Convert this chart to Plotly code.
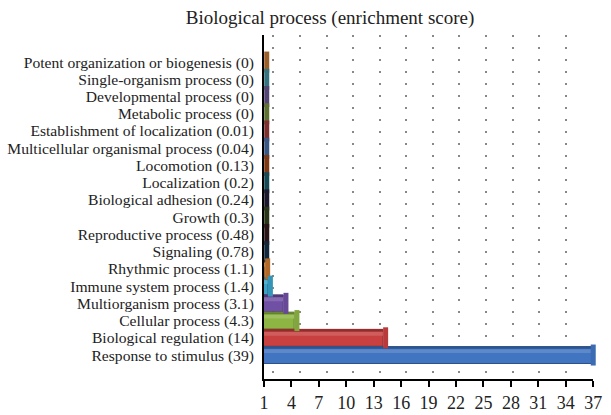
import numpy as np
import plotly.graph_objects as go

# ---- data (top to bottom as displayed) ----
categories = [
    "Potent organization or biogenesis (0)",
    "Single-organism process (0)",
    "Developmental process (0)",
    "Metabolic process (0)",
    "Establishment of localization (0.01)",
    "Multicellular organismal process (0.04)",
    "Locomotion (0.13)",
    "Localization (0.2)",
    "Biological adhesion (0.24)",
    "Growth (0.3)",
    "Reproductive process (0.48)",
    "Signaling (0.78)",
    "Rhythmic process (1.1)",
    "Immune system process (1.4)",
    "Multiorganism process (3.1)",
    "Cellular process (4.3)",
    "Biological regulation (14)",
    "Response to stimulus (39)",
]
scores = [0, 0, 0, 0, 0.01, 0.04, 0.13, 0.2, 0.24, 0.3, 0.48, 0.78, 1.1, 1.4, 3.1, 4.3, 14, 39]
x_ticks = [1, 4, 7, 10, 13, 16, 19, 22, 25, 28, 31, 34, 37]

# ---- styles ----
colors = ["#a8682e", "#3a7d8c", "#5c4a80", "#687a38", "#8a3535", "#3d5f8f",
          "#8a3d15", "#16505e", "#1e1a30", "#2c3a1a", "#2e1518", "#142a42",
          "#c0732c", "#3aa3c8", "#7050a5", "#8db543", "#c84040", "#4175c2"]


def shade(hexc, f):
    h = hexc.lstrip("#")
    r, g, b = [int(h[i:i + 2], 16) for i in (0, 2, 4)]
    if f < 1:
        r, g, b = [int(v * f) for v in (r, g, b)]
    else:
        t = f - 1
        r, g, b = [int(v + (255 - v) * t) for v in (r, g, b)]
    return "#%02x%02x%02x" % (r, g, b)


FONT = "Liberation Serif, Times New Roman, serif"
XMIN, XMAX = x_ticks[0], x_ticks[-1]
vals = np.array(scores, dtype=float)

fig = go.Figure()

# main bar faces
fig.add_trace(go.Bar(
    y=categories, x=vals, orientation="h", width=0.98,
    marker=dict(color=colors, line=dict(color=[shade(c, 0.7) for c in colors], width=1)),
    hoverinfo="x+y", showlegend=False,
))
# lighter highlight band
fig.add_trace(go.Bar(
    y=categories, x=vals, orientation="h", width=0.22, offset=-0.34,
    marker=dict(color=[shade(c, 1.15) for c in colors], line=dict(width=0)),
    hoverinfo="skip", showlegend=False,
))
# darker top face
fig.add_trace(go.Bar(
    y=categories, x=vals, orientation="h", width=0.12, offset=-0.49,
    marker=dict(color=[shade(c, 0.72) for c in colors], line=dict(width=0)),
    hoverinfo="skip", showlegend=False,
))
# end caps (3-D bar ends)
cap_x = np.minimum(np.maximum(vals, XMIN), XMAX - 0.3) + 0.3
fig.add_trace(go.Scatter(
    y=categories, x=cap_x, mode="markers", cliponaxis=False,
    marker=dict(symbol="line-ns-open", size=15,
                color=[shade(c, 0.92) for c in colors],
                line=dict(width=5)),
    hoverinfo="skip", showlegend=False,
))

# invisible trace to activate the overlay axis carrying the dotted grid
fig.add_trace(go.Scatter(x=[XMIN], y=[categories[0]], xaxis="x2", mode="markers",
                         marker=dict(opacity=0), hoverinfo="skip", showlegend=False))

px_per_unit = 338 / (XMAX - XMIN)
x2_max = XMIN + 347 / px_per_unit
grid_vals = [XMIN + 10 / px_per_unit + 28 / px_per_unit * k for k in range(13)]

fig.update_layout(
    width=611, height=415,
    margin=dict(l=264, r=0, t=35, b=36),
    paper_bgcolor="white", plot_bgcolor="rgba(0,0,0,0)",
    barmode="overlay",
    font=dict(family=FONT, color="#222222"),
    title=dict(text="Biological process (enrichment score)", x=330 / 611, xanchor="center",
               xref="container", y=1 - 17 / 415, yanchor="middle",
               font=dict(family=FONT, size=19, color="#222222")),
    xaxis=dict(domain=[0, 338 / 347], range=[XMIN, XMAX], tickvals=x_ticks,
               ticktext=[str(t) for t in x_ticks], showgrid=False, zeroline=False,
               showline=True, linecolor="black", linewidth=2,
               ticks="outside", ticklen=6, tickwidth=2, tickcolor="black",
               ticklabelstandoff=0,
               tickfont=dict(family=FONT, size=18, color="#222222")),
    xaxis2=dict(domain=[0, 1], range=[XMIN, x2_max], overlaying="x", anchor="y",
                tickvals=grid_vals, showticklabels=False, ticks="",
                showgrid=True, gridcolor="#888888", gridwidth=1.6, griddash="2px,10px",
                zeroline=False, showline=False, layer="below traces"),
    yaxis=dict(type="category", categoryorder="array", categoryarray=categories,
               tickmode="array", tickvals=categories, ticktext=categories,
               range=[len(categories) - 1 + 1.39, -1.57], showgrid=False, zeroline=False,
               showline=True, linecolor="black", linewidth=2, ticks="",
               ticklabelstandoff=5,
               tickfont=dict(family=FONT, size=15.6, color="#222222")),
)

fig.write_html("out.html", config={"displayModeBar": False},
               post_script="document.body.style.margin='0';document.body.style.padding='0';")
